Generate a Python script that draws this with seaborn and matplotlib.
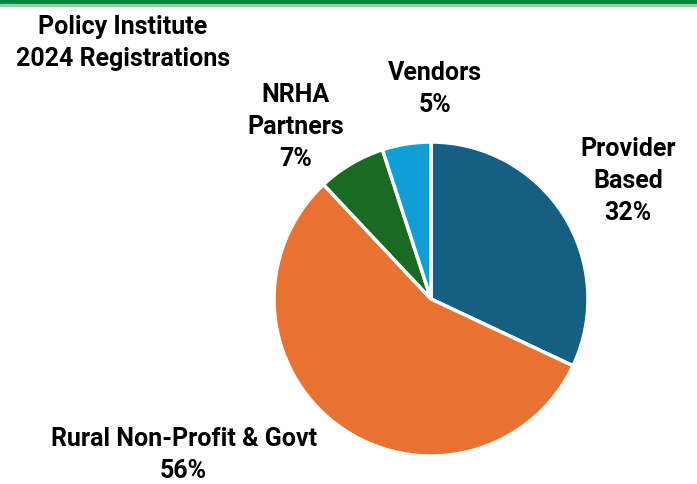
import matplotlib
matplotlib.use("Agg")
import matplotlib.pyplot as plt
import seaborn as sns
from matplotlib.patches import Rectangle

categories = ["Provider\nBased", "Rural Non-Profit & Govt", "NRHA\nPartners", "Vendors"]
values = [32, 56, 7, 5]
colors = ["#156082", "#E97132", "#196B24", "#0F9ED5"]
title = "Policy Institute\n2024 Registrations"

sns.set_theme(style="white")
plt.rcParams['font.family'] = ['Roboto', 'DejaVu Sans']

fig = plt.figure(figsize=(6.97, 4.84), dpi=100)
fig.patch.set_facecolor("white")

# top green band
fig.patches.append(Rectangle((0, 1 - 4/484), 1, 4/484, transform=fig.transFigure,
                             color="#00803A", zorder=5))
fig.patches.append(Rectangle((0, 1 - 6/484), 1, 2/484, transform=fig.transFigure,
                             color="#8FD3A5", zorder=5))

cx, cy, r = 431, 299, 157
W, H = 697, 484
ax = fig.add_axes([(cx - r) / W, (H - cy - r) / H, 2 * r / W, 2 * r / H])
palette = sns.color_palette(colors)
wedges, _ = ax.pie(values, colors=palette, startangle=90, counterclock=False,
                   radius=1, wedgeprops=dict(edgecolor="white", linewidth=2.5))
ax.set_xlim(-1, 1)
ax.set_ylim(-1, 1)
ax.set_aspect("equal")
ax.axis("off")

label_pos = [(1.255, 0.752), (-1.575, -0.995), (-0.86, 1.095), (0.025, 1.34)]
for cat, v, (x, y) in zip(categories, values, label_pos):
    ax.text(x, y, f"{cat}\n{v}%", ha="center", va="center", fontsize=18,
            fontweight="bold", color="black", linespacing=1.42, clip_on=False)

fig.text(123 / W, 1 - 43 / H, title, ha="center", va="center", fontsize=18,
         fontweight="bold", color="black", linespacing=1.42)

fig.savefig("out.png", dpi=100, facecolor="white")
